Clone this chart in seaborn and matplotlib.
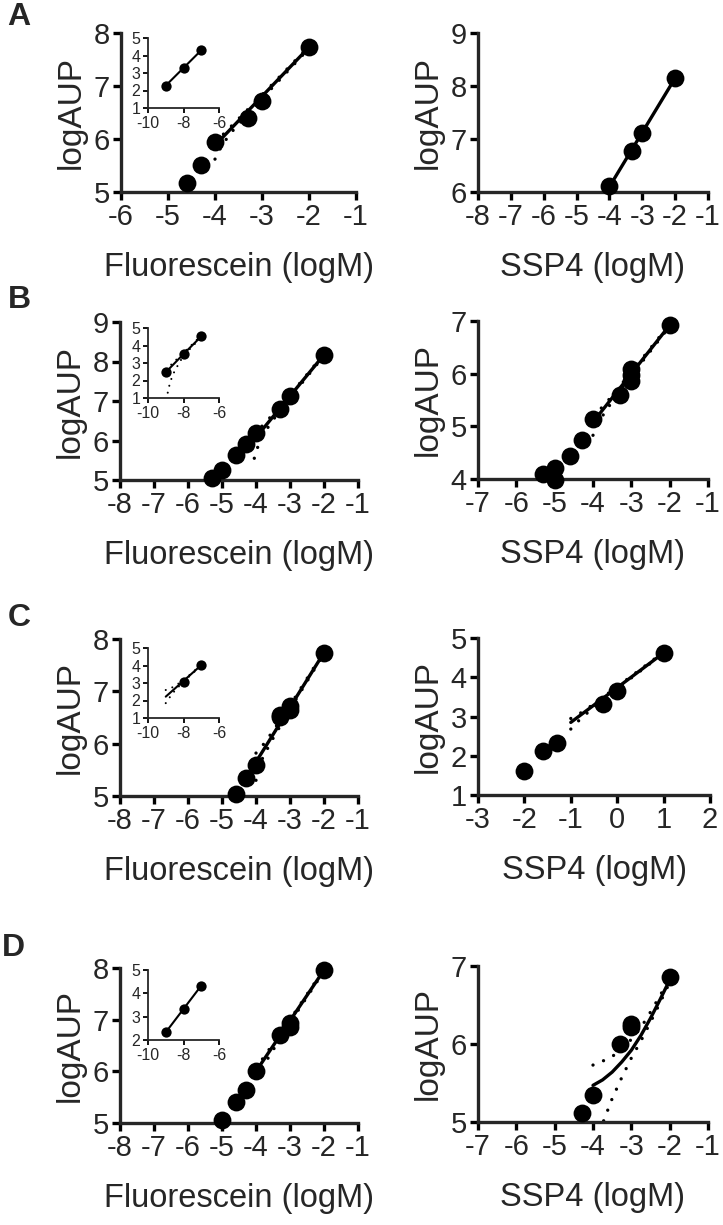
import seaborn as sns
import matplotlib.pyplot as plt

# ── data (x = log concentration, y = logAUP) ──
# A
a1_x = [-4.6, -4.3, -4.0, -3.3, -3.0, -2.0]
a1_y = [5.17, 5.51, 5.95, 6.39, 6.72, 7.73]
a1_fit_x = [-4.0, -2.0]
a1_fit_y = [5.88, 7.73]
a1_band_x = [-4.0, -3.9, -3.7, -3.3, -3.0, -2.0]
a1_lo = [5.62, 5.80, 6.08, 6.47, 6.76, 7.71]
a1_hi = [5.95, 6.02, 6.20, 6.56, 6.83, 7.75]

ai_x = [-9, -8, -7]
ai_y = [2.28, 3.29, 4.30]

a2_x = [-4.0, -3.3, -3.0, -2.0]
a2_y = [6.12, 6.78, 7.12, 8.15]
a2_fit_x = [-4.0, -2.0]
a2_fit_y = [6.10, 8.15]

# B
b1_x = [-5.3, -5.0, -4.6, -4.3, -4.0, -3.3, -3.0, -2.0]
b1_y = [5.04, 5.25, 5.63, 5.90, 6.20, 6.79, 7.12, 8.17]
b1_fit_x = [-4.0, -2.0]
b1_fit_y = [6.08, 8.17]
b1_band_x = [-4.05, -3.9, -3.8, -3.5, -3.0, -2.0]
b1_lo = [5.55, 5.97, 6.14, 6.52, 7.08, 8.15]
b1_hi = [6.15, 6.28, 6.39, 6.66, 7.15, 8.19]

bi_x = [-9, -8, -7]
bi_y = [2.47, 3.51, 4.52]
bi_band_x = [-9.0, -8.9, -8.8, -8.7, -8.5, -8.0, -7.0]
bi_lo = [0.50, 1.25, 1.70, 2.05, 2.55, 3.42, 4.47]
bi_hi = [2.65, 2.72, 2.80, 2.90, 3.10, 3.58, 4.57]

b2_x = [-5.3, -5.0, -5.0, -4.6, -4.3, -4.0, -3.3, -3.0, -3.0, -3.0, -2.0]
b2_y = [4.09, 4.20, 3.98, 4.44, 4.75, 5.13, 5.60, 6.08, 5.98, 5.86, 6.92]
b2_fit_x = [-4.0, -2.0]
b2_fit_y = [5.08, 6.92]
b2_band_x = [-4.0, -3.75, -3.5, -3.0, -2.0]
b2_lo = [4.83, 5.20, 5.47, 5.96, 6.90]
b2_hi = [5.20, 5.37, 5.58, 6.03, 6.94]

# C
c1_x = [-4.6, -4.3, -4.0, -3.3, -3.3, -3.0, -3.0, -2.0]
c1_y = [5.03, 5.35, 5.59, 6.51, 6.55, 6.72, 6.64, 7.74]
c1_fit_x = [-4.0, -2.0]
c1_fit_y = [5.65, 7.74]
c1_band_x = [-4.0, -3.8, -3.5, -3.0, -2.0]
c1_lo = [5.30, 5.74, 6.10, 6.66, 7.72]
c1_hi = [5.82, 5.97, 6.24, 6.73, 7.76]

ci_x = [-8, -7]
ci_y = [3.08, 4.02]
ci_fit_x = [-9.0, -7.0]
ci_fit_y = [2.22, 4.02]
ci_band_x = [-9.0, -8.8, -8.5, -8.0, -7.0]
ci_lo = [1.85, 2.15, 2.55, 3.08, 4.00]
ci_hi = [2.60, 2.66, 2.82, 3.16, 4.04]

c2_x = [-2.0, -1.6, -1.3, -0.3, 0.0, 1.0]
c2_y = [1.61, 2.11, 2.32, 3.32, 3.64, 4.62]
c2_fit_x = [-1.0, 1.0]
c2_fit_y = [2.85, 4.62]
c2_band_x = [-1.0, -0.8, -0.5, 0.0, 1.0]
c2_lo = [2.68, 2.93, 3.24, 3.71, 4.61]
c2_hi = [2.95, 3.08, 3.32, 3.76, 4.64]

# D
d1_x = [-5.0, -4.6, -4.3, -4.0, -3.3, -3.0, -3.0, -2.0]
d1_y = [5.06, 5.40, 5.64, 6.00, 6.70, 6.93, 6.85, 7.96]
d1_fit_x = [-4.0, -2.0]
d1_fit_y = [6.00, 7.96]
d1_band_x = [-4.0, -3.0, -2.0]
d1_lo = [5.88, 6.94, 7.94]
d1_hi = [6.06, 7.00, 7.98]

di_x = [-9, -8, -7]
di_y = [2.33, 3.33, 4.33]

d2_x = [-4.3, -4.0, -3.3, -3.0, -3.0, -2.0]
d2_y = [5.11, 5.34, 6.00, 6.26, 6.22, 6.86]
d2_fit_x = [-4.0, -3.75, -3.5, -3.25, -3.0, -2.75, -2.5, -2.25, -2.0]
d2_fit_y = [5.47, 5.54, 5.64, 5.77, 5.92, 6.11, 6.33, 6.57, 6.82]
d2_lo = [4.60, 4.98, 5.30, 5.57, 5.82, 6.04, 6.28, 6.53, 6.79]
d2_hi = [5.73, 5.78, 5.84, 5.93, 6.06, 6.21, 6.41, 6.62, 6.85]

sns.set_style("ticks")
plt.rcParams["font.family"] = ["Liberation Sans", "DejaVu Sans"]
plt.rcParams["axes.unicode_minus"] = False

W, H = 723, 1225
fig = plt.figure(figsize=(W / 100, H / 100), dpi=100)


def box(l, t, r, b):
    return [l / W, 1 - b / H, (r - l) / W, (b - t) / H]


def draw(ax, x, y, fit_x, fit_y, band_x=None, lo=None, hi=None, s=165, lw=2.4):
    sns.lineplot(x=fit_x, y=fit_y, ax=ax, color="black", lw=lw,
                 estimator=None, sort=False)
    if band_x is not None:
        for b in (lo, hi):
            sns.lineplot(x=band_x, y=b, ax=ax, color="black", lw=lw,
                         linestyle=(0, (0.01, 3.4)), dash_capstyle="round",
                         estimator=None, sort=False)
    sns.scatterplot(x=x, y=y, ax=ax, color="black", s=s, linewidth=0,
                    zorder=3, clip_on=False)


def style(ax, xlim, ylim, xlabel=None, inset=False):
    ax.set_xlim(xlim)
    ax.set_ylim(ylim)
    if inset:
        ax.set_xticks([-10, -8, -6])
        ax.set_yticks(range(ylim[0], ylim[1] + 1))
        lw, ln, fs = 1.3, 3.5, 11.5
    else:
        ax.set_xticks(range(xlim[0], xlim[1] + 1))
        ax.set_yticks(range(ylim[0], ylim[1] + 1))
        lw, ln, fs = 2.4, 6, 21
    sns.despine(ax=ax)
    for sp in ("left", "bottom"):
        ax.spines[sp].set_linewidth(lw)
    ax.tick_params(width=lw, length=ln, labelsize=fs, pad=2, color="black")
    ax.set_facecolor("none")
    if not inset:
        ax.set_ylabel("logAUP", fontsize=24, labelpad=5)
        ax.set_xlabel(xlabel, fontsize=23.5, labelpad=15)
    else:
        ax.set_xlabel("")
        ax.set_ylabel("")


# ── A ──
ax = fig.add_axes(box(121, 33, 356, 192))
draw(ax, a1_x, a1_y, a1_fit_x, a1_fit_y, a1_band_x, a1_lo, a1_hi)
style(ax, (-6, -1), (5, 8), "Fluorescein (logM)")
ax = fig.add_axes(box(148, 38, 219, 108))
draw(ax, ai_x, ai_y, ai_x, ai_y, s=55, lw=1.5)
style(ax, (-10, -6), (1, 5), inset=True)
ax = fig.add_axes(box(478, 33, 708, 192))
draw(ax, a2_x, a2_y, a2_fit_x, a2_fit_y)
style(ax, (-8, -1), (6, 9), "SSP4 (logM)")

# ── B ──
ax = fig.add_axes(box(120, 322, 358, 480))
draw(ax, b1_x, b1_y, b1_fit_x, b1_fit_y, b1_band_x, b1_lo, b1_hi)
style(ax, (-8, -1), (5, 9), "Fluorescein (logM)")
ax = fig.add_axes(box(148, 328, 219, 398))
draw(ax, bi_x, bi_y, bi_x, bi_y, bi_band_x, bi_lo, bi_hi, s=55, lw=1.5)
style(ax, (-10, -6), (1, 5), inset=True)
ax = fig.add_axes(box(478, 321, 708, 479))
draw(ax, b2_x, b2_y, b2_fit_x, b2_fit_y, b2_band_x, b2_lo, b2_hi)
style(ax, (-7, -1), (4, 7), "SSP4 (logM)")

# ── C ──
ax = fig.add_axes(box(120, 639, 358, 796))
draw(ax, c1_x, c1_y, c1_fit_x, c1_fit_y, c1_band_x, c1_lo, c1_hi)
style(ax, (-8, -1), (5, 8), "Fluorescein (logM)")
ax = fig.add_axes(box(148, 648, 219, 718))
draw(ax, ci_x, ci_y, ci_fit_x, ci_fit_y, ci_band_x, ci_lo, ci_hi, s=55, lw=1.5)
style(ax, (-10, -6), (1, 5), inset=True)
ax = fig.add_axes(box(478, 638, 710, 795))
draw(ax, c2_x, c2_y, c2_fit_x, c2_fit_y, c2_band_x, c2_lo, c2_hi)
style(ax, (-3, 2), (1, 5), "SSP4 (logM)")

# ── D ──
ax = fig.add_axes(box(120, 968, 358, 1123))
draw(ax, d1_x, d1_y, d1_fit_x, d1_fit_y, d1_band_x, d1_lo, d1_hi)
style(ax, (-8, -1), (5, 8), "Fluorescein (logM)")
ax = fig.add_axes(box(148, 970, 219, 1040))
draw(ax, di_x, di_y, di_x, di_y, s=55, lw=1.5)
style(ax, (-10, -6), (2, 5), inset=True)
ax = fig.add_axes(box(478, 966, 708, 1122))
draw(ax, d2_x, d2_y, d2_fit_x, d2_fit_y, d2_fit_x, d2_lo, d2_hi)
style(ax, (-7, -1), (5, 7), "SSP4 (logM)")

# panel letters
for letter, (px, py) in zip("ABCD", [(19, 17), (19, 300), (19, 618), (13, 948)]):
    fig.text(px / W, 1 - py / H, letter, fontsize=23, fontweight="bold",
             ha="center", va="center")

plt.savefig("out.png", dpi=100)
